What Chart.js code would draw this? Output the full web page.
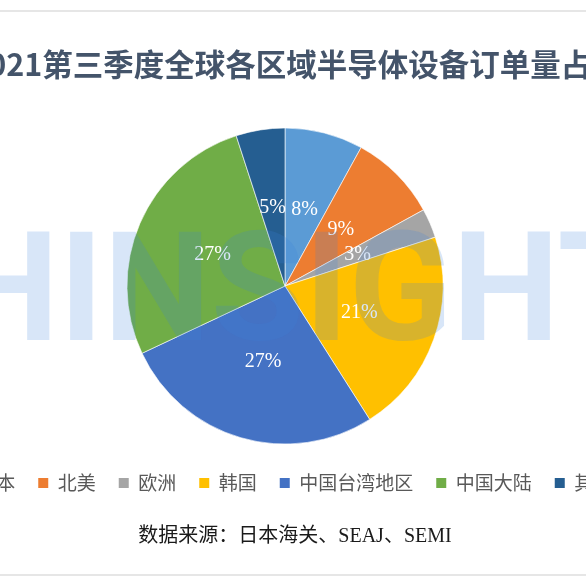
<!DOCTYPE html>
<html>
<head>
<meta charset="utf-8">
<script src="https://cdn.jsdelivr.net/npm/chart.js@4.4.0/dist/chart.umd.min.js"></script>
<style>
  html, body { margin: 0; padding: 0; background: #fff; overflow: hidden; }
  body { width: 586px; height: 587px; position: relative; }
  #wrap { position: absolute; left: -75px; top: 0; width: 720px; height: 587px; }
  .rule { position: absolute; left: 0; width: 586px; height: 2px; background: #e6e6e6; }
</style>
</head>
<body>
<div id="wrap"><canvas id="chart"></canvas></div>
<div class="rule" style="top:10px"></div>
<div class="rule" style="top:574px"></div>
<script>
const regions = ['日本', '北美', '欧洲', '韩国', '中国台湾地区', '中国大陆', '其他'];
const shares = [8, 9, 3, 21, 27, 27, 5];
const colors = ['#5B9BD5', '#ED7D31', '#A5A5A5', '#FFC000', '#4472C4', '#70AD47', '#255E91'];
const titleText = '2021第三季度全球各区域半导体设备订单量占比';
const sourceText = '数据来源：日本海关、SEAJ、SEMI';
const watermark = 'HINSIGHTS';

// canvas is wider than the page, its x = page x + 75
const OFFSET_X = 75;

const extras = {
  id: 'extras',
  afterLayout(chart) {
    // title sits a little right of the pie centre
    chart.titleBlock.left += 11;
    chart.titleBlock.right += 11;
  },
  afterDatasetsDraw(chart) {
    const ctx = chart.ctx;
    const meta = chart.getDatasetMeta(0);
    ctx.save();
    ctx.font = '20px "Liberation Serif"';
    ctx.fillStyle = '#ffffff';
    ctx.textAlign = 'center';
    ctx.textBaseline = 'middle';
    meta.data.forEach((arc, i) => {
      const p = arc.getProps(['x', 'y', 'startAngle', 'endAngle', 'outerRadius'], true);
      const mid = (p.startAngle + p.endAngle) / 2;
      const r = p.outerRadius * 0.5;
      ctx.fillText(shares[i] + '%', p.x + Math.cos(mid) * r, p.y + Math.sin(mid) * r);
    });
    ctx.restore();
  },
  afterDraw(chart) {
    const ctx = chart.ctx;
    ctx.save();
    // source note under the legend
    ctx.font = '20px "Liberation Serif", "Noto Sans CJK SC"';
    ctx.fillStyle = '#1a1a1a';
    ctx.textAlign = 'center';
    ctx.textBaseline = 'middle';
    ctx.fillText(sourceText, 295 + OFFSET_X, 537);

    // watermark over the pie
    ctx.font = 'bold 152px Roboto';
    ctx.fillStyle = 'rgba(60, 130, 220, 0.2)';
    ctx.textAlign = 'left';
    ctx.textBaseline = 'alphabetic';
    const hw = ctx.measureText('H').width;
    ctx.fillText(watermark, 69 + OFFSET_X - hw - 10, 340);
    ctx.restore();
  }
};

const ctx = document.getElementById('chart').getContext('2d');
new Chart(ctx, {
  type: 'pie',
  data: {
    labels: regions,
    datasets: [{
      data: shares,
      backgroundColor: colors,
      borderColor: 'rgba(255,255,255,0.6)',
      borderWidth: 1,
      radius: 158,
    }]
  },
  options: {
    responsive: true,
    maintainAspectRatio: false,
    animation: false,
    layout: {
      padding: { top: 0, bottom: 84.5, left: 0, right: 0 }
    },
    plugins: {
      title: {
        display: true,
        text: titleText,
        color: '#44546A',
        font: { family: '"Noto Sans CJK SC"', size: 30.5, weight: 'bold' },
        padding: { top: 45.7, bottom: 39.2 },
      },
      legend: {
        position: 'bottom',
        labels: {
          boxWidth: 10,
          boxHeight: 10,
          padding: 23,
          color: '#595959',
          font: { family: '"Noto Sans CJK SC"', size: 19 },
          generateLabels: (chart) =>
            Chart.overrides.pie.plugins.legend.labels.generateLabels(chart)
              .map(item => ({ ...item, lineWidth: 0 })),
        }
      },
      tooltip: { enabled: false },
    }
  },
  plugins: [extras]
});
</script>
</body>
</html>
